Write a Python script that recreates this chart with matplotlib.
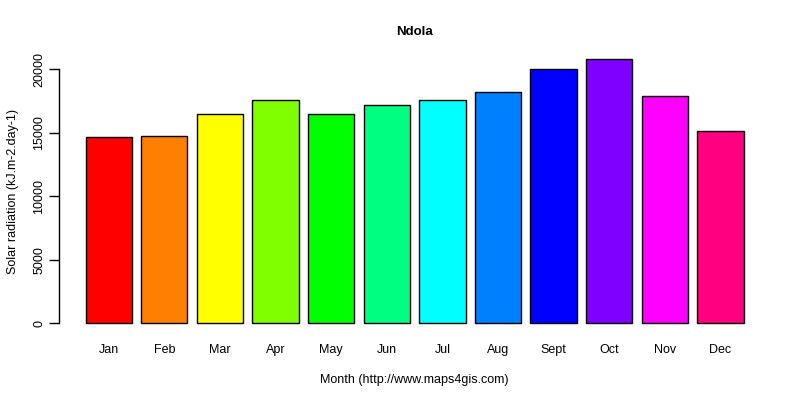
import matplotlib
matplotlib.use('Agg')
import matplotlib.pyplot as plt

plt.rcParams['font.family'] = ['Liberation Sans', 'DejaVu Sans']

months = ["Jan", "Feb", "Mar", "Apr", "May", "Jun", "Jul", "Aug", "Sept", "Oct", "Nov", "Dec"]
radiation = [14650, 14720, 16460, 17560, 16460, 17170, 17560, 18190, 20000, 20790, 17870, 15120]
colors = ["#FF0000", "#FF8000", "#FFFF00", "#80FF00", "#00FF00", "#00FF80",
          "#00FFFF", "#0080FF", "#0000FF", "#8000FF", "#FF00FF", "#FF0080"]
yticks = [0, 5000, 10000, 15000, 20000]

fig = plt.figure(figsize=(8, 4), dpi=100)
ax = fig.add_axes([0.074, 0.165, 0.8885, 0.713])

# R barplot layout: width 1, space 0.2
x = [0.7 + 1.2 * i for i in range(len(months))]
ax.bar(x, radiation, width=1.0, color=colors, edgecolor="black", linewidth=1)

xmin, xmax = 0.2, x[-1] + 0.5
pad = (xmax - xmin) * 0.04
ax.set_xlim(xmin - pad, xmax + pad)
ymax = max(radiation)
ax.set_ylim(-ymax * 0.04, ymax * 1.04)

for s in ["top", "right", "bottom"]:
    ax.spines[s].set_visible(False)
ax.spines["left"].set_bounds(0, 20000)
ax.spines["left"].set_linewidth(1)

ax.set_yticks(yticks)
ax.set_yticklabels([str(v) for v in yticks], rotation=90, va="center", fontsize=9)
ax.tick_params(axis="y", length=7, width=1, pad=3)

ax.set_xticks(x)
ax.set_xticklabels(months, fontsize=9)
ax.tick_params(axis="x", length=0, pad=7.5)

ax.set_title("Ndola", fontsize=9.5, fontweight="bold", pad=10)
ax.set_xlabel("Month (http://www.maps4gis.com)", fontsize=9, labelpad=12.5)
ax.set_ylabel("Solar radiation (kJ.m-2.day-1)", fontsize=9, labelpad=10)

fig.savefig("out.png", dpi=100)
